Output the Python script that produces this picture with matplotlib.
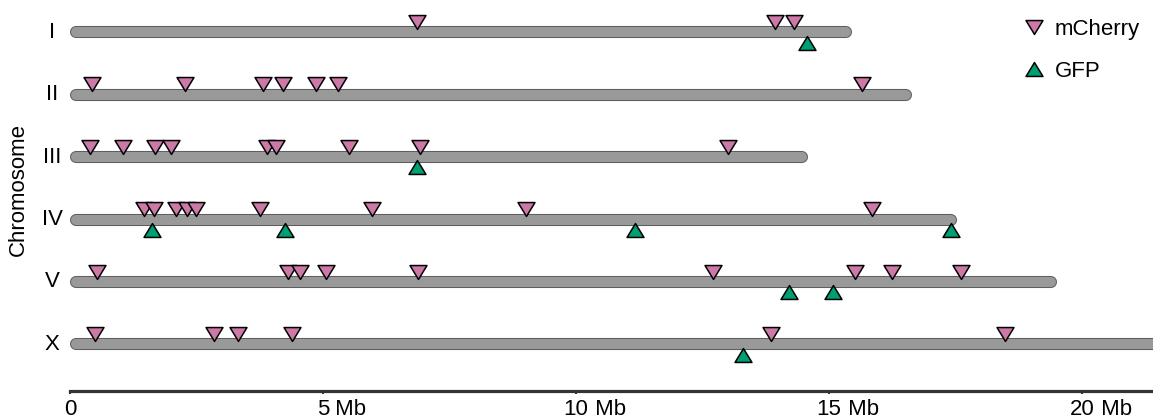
import matplotlib
matplotlib.use("Agg")
import matplotlib.pyplot as plt
from matplotlib.path import Path
from matplotlib.lines import Line2D

plt.rcParams['font.family'] = ['Liberation Sans', 'DejaVu Sans']

# chromosome names and drawn lengths (Mb)
chroms = ["I", "II", "III", "IV", "V", "X"]
lengths = [15.46, 16.64, 14.58, 17.52, 19.51, 21.9]

# insertion sites (Mb) per chromosome
mcherry = {
    "I": [6.85, 13.94, 14.31],
    "II": [0.43, 2.27, 3.81, 4.20, 4.87, 5.30, 15.64],
    "III": [0.39, 1.04, 1.68, 2.00, 3.90, 4.08, 5.51, 6.91, 13.00],
    "IV": [1.46, 1.65, 2.10, 2.31, 2.48, 3.76, 5.97, 9.02, 15.85],
    "V": [0.54, 4.30, 4.55, 5.05, 6.87, 12.70, 15.51, 16.25, 17.60],
    "X": [0.49, 2.85, 3.32, 4.39, 13.85, 18.47],
}
gfp = {
    "I": [14.57],
    "II": [],
    "III": [6.85],
    "IV": [1.62, 4.24, 11.16, 17.40],
    "V": [14.20, 15.07],
    "X": [13.29],
}

ticks = [0, 5, 10, 15, 20]
tick_nums = ["0", "5", "10", "15", "20"]
unit = " Mb"

pink = "#CC79A7"
green = "#009E73"

fig = plt.figure(figsize=(11.53, 4.20), dpi=100)
ax = fig.add_axes([70 / 1153, 1 - 391 / 420, 1083 / 1153, 391 / 420])
xmax = 21.4
ax.set_xlim(0, xmax)
ax.set_ylim(5.75, -0.52)

# flattened triangles
down = Path([(-1, 0.82), (1, 0.82), (0, -0.82), (-1, 0.82)],
            [Path.MOVETO, Path.LINETO, Path.LINETO, Path.CLOSEPOLY])
up = Path([(-1, -0.82), (1, -0.82), (0, 0.82), (-1, -0.82)],
          [Path.MOVETO, Path.LINETO, Path.LINETO, Path.CLOSEPOLY])
msize = 12.2

px_per_mb = 1083 / xmax
cap = 6 / px_per_mb
off = 0.165

for i, c in enumerate(chroms):
    L = lengths[i]
    ax.plot([cap, L - cap], [i, i], color="#5e5e5e", lw=8.7,
            solid_capstyle="round", zorder=1)
    ax.plot([cap, L - cap], [i, i], color="#999999", lw=7.2,
            solid_capstyle="round", zorder=2)
    ax.plot(mcherry[c], [i - off] * len(mcherry[c]), ls="none", marker=down,
            ms=msize, mfc=pink, mec="black", mew=1.1, zorder=3, clip_on=False)
    if gfp[c]:
        ax.plot(gfp[c], [i + off] * len(gfp[c]), ls="none", marker=up,
                ms=msize, mfc=green, mec="black", mew=1.1, zorder=3,
                clip_on=False)
    ax.text(-18 / 1083, i, c, transform=ax.get_yaxis_transform(),
            ha="center", va="center", fontsize=16)

for s in ["top", "right", "left"]:
    ax.spines[s].set_visible(False)
ax.spines["bottom"].set_linewidth(2.3)
ax.spines["bottom"].set_color("#333333")
ax.set_yticks([])
ax.set_xticks(ticks)
ax.set_xticklabels(tick_nums, fontsize=16)
ax.tick_params(axis="x", length=2.5, width=1.5, color="#333333", pad=3)

fig.text(18 / 1153, 1 - 190 / 420, "Chromosome", rotation=90,
         ha="center", va="center", fontsize=16)

handles = [
    Line2D([], [], ls="none", marker=down, ms=msize, mfc=pink, mec="black", mew=1.1),
    Line2D([], [], ls="none", marker=up, ms=msize, mfc=green, mec="black", mew=1.1),
]
ax.legend(handles, ["mCherry", "GFP"], loc="upper left",
          bbox_to_anchor=((1006 - 70) / 1083, 1.0), frameon=False,
          fontsize=16, handlelength=0.8, handletextpad=0.55,
          labelspacing=0.95, borderpad=0.35)

# numbers sit centred on the ticks, unit follows them
fig.canvas.draw()
for lab in ax.get_xticklabels():
    if lab.get_text() != "0":
        ax.annotate(unit, xy=(1, 0), xycoords=lab, ha="left", va="bottom",
                    fontsize=16, annotation_clip=False)

fig.savefig("out.png", dpi=100)
